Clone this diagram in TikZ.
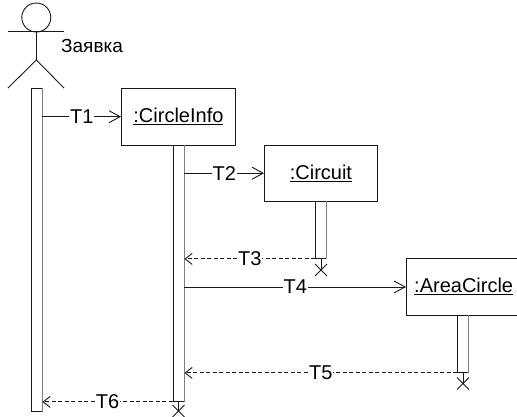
\documentclass[tikz,border=0pt]{standalone}
\usepackage{fontspec}
\setmainfont{Liberation Sans}
\usepackage{tikz}
\usetikzlibrary{arrows.meta,shapes.misc}
\tikzset{
 seq line/.style={line width=.9pt,draw=black!90},
 seq box/.style={seq line,rectangle,inner sep=0pt,anchor=north west,font=\seqfont},
 seq bar/.style={seq line,rectangle,inner sep=0pt,minimum width=11pt,anchor=north},
 seq end/.style={seq line,cross out,inner sep=0pt,minimum size=11pt},
 seq call/.style={seq line,-{Straight Barb[length=11pt,width=12pt,line width=.9pt]}},
 seq return/.style={seq line,dash pattern=on 4pt off 2.5pt,
   -{Straight Barb[length=7pt,width=11pt,line width=.9pt,sep=0pt]}},
 seq label/.style={fill=white,inner sep=1pt,font=\seqfont,text=black}
}
\newcommand{\seqfont}{\fontsize{20}{22}\selectfont}

\begin{document}
\begin{tikzpicture}[x=1pt,y=-1pt]
 \useasboundingbox (0,0) rectangle (517,416);
 % actor
 \node[seq line,circle,inner sep=0pt,minimum size=29pt] (head) at (36.3,17.5) {};
 \coordinate (neck) at (36.3,60);
 \coordinate (armL) at (8,31);
 \coordinate (armR) at (64,31);
 \coordinate (legL) at (8,88);
 \coordinate (legR) at (64,88);
 \draw[seq line] (armL)--(armR);
 \draw[seq line] (head.south)--(neck);
 \draw[seq line] (legL)--(neck)--(legR);
 \node[anchor=west,inner sep=0pt,font=\fontsize{19}{21}\selectfont] (actor) at (61,46) {Заявка};

 % objects
 \node[seq box,minimum width=114pt,minimum height=56.5pt] (box1) at (121,88) {\underline{:CircleInfo}};
 \node[seq box,minimum width=113pt,minimum height=56.5pt] (box2) at (264,144.5) {\underline{:Circuit}};
 \node[seq box,minimum width=120pt,minimum height=57pt] (box3) at (406,258) {};
 \node[anchor=west,inner sep=0pt,font=\seqfont] (name3) at (414,286) {\underline{:AreaCircle}};

 % activation bars
 \node[seq bar,minimum height=323pt] (bar0) at (36.5,88) {};
 \node[seq bar,minimum height=256.5pt] (bar1) at (178.5,144.5) {};
 \node[seq bar,minimum height=57pt] (bar2) at (321,201) {};
 \node[seq bar,minimum height=57pt] (bar3) at (463,315) {};
 \foreach \b in {0,...,3}
   \draw[line width=1pt,black!50] (bar\b.north east)--(bar\b.south east);

 % ends
 \node[seq end] (end1) at (178.5,411) {};
 \node[seq end] (end2) at (321,270) {};
 \node[seq end] (end3) at (463,383.5) {};
 \draw[seq line] (bar1.south)--(end1.center);
 \draw[seq line] (bar2.south)--(end2.center);
 \draw[seq line] (bar3.south)--(end3.center);

 % messages
 \draw[seq call] (bar0.east |- box1.west)--node[seq label,pos=.5] {T1}(box1.west);
 \draw[seq call] (bar1.east |- box2.west)--node[seq label,pos=.5] {T2}(box2.west);
 \draw[seq return] (bar2.south west)--node[seq label,pos=.5] {T3}(bar1.east |- bar2.south west);
 \draw[seq call] (bar1.east |- box3.west)--node[seq label,pos=.5] {T4}(box3.west);
 \draw[seq return] (bar3.south west)--node[seq label,pos=.5] {T5}(bar1.east |- bar3.south west);
 \draw[seq return] (bar1.south west)--node[seq label,pos=.5] {T6}(bar0.east |- bar1.south west);
\end{tikzpicture}
\end{document}
